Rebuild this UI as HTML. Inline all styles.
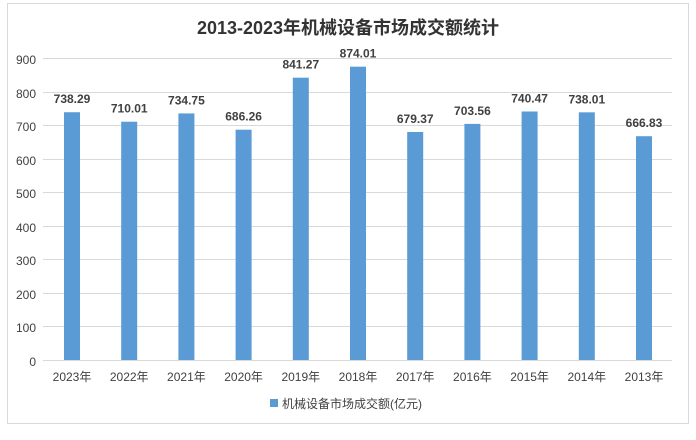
<!DOCTYPE html>
<html><head><meta charset="utf-8"><style>body{margin:0;background:#fff}</style></head><body>
<svg width="696" height="435" xmlns="http://www.w3.org/2000/svg" font-family="Liberation Sans, Noto Sans CJK SC, sans-serif">
<rect x="7.5" y="3.5" width="681" height="420" fill="#fff" stroke="#d9d9d9"/>
<text x="348" y="34" text-anchor="middle" font-size="18" font-weight="bold" fill="#333">2013-2023年机械设备市场成交额统计</text>
<g stroke="#d9d9d9" stroke-width="1">
<line x1="43" x2="672" y1="58.5" y2="58.5"/><line x1="43" x2="672" y1="92.5" y2="92.5"/><line x1="43" x2="672" y1="125.5" y2="125.5"/><line x1="43" x2="672" y1="159.5" y2="159.5"/><line x1="43" x2="672" y1="192.5" y2="192.5"/><line x1="43" x2="672" y1="226.5" y2="226.5"/><line x1="43" x2="672" y1="259.5" y2="259.5"/><line x1="43" x2="672" y1="293.5" y2="293.5"/><line x1="43" x2="672" y1="326.5" y2="326.5"/><line x1="43" x2="672" y1="360.5" y2="360.5"/>
</g>
<g font-size="12" fill="#404040" text-anchor="end">
<text x="36" y="64">900</text><text x="36" y="98">800</text><text x="36" y="131">700</text><text x="36" y="165">600</text><text x="36" y="198">500</text><text x="36" y="232">400</text><text x="36" y="265">300</text><text x="36" y="299">200</text><text x="36" y="332">100</text><text x="36" y="366">0</text>
</g>
<g fill="#5b9bd5" id="bars"></g>
<g id="labels" font-size="12" font-weight="bold" fill="#404040" text-anchor="middle"></g>
<g id="cats" font-size="12" fill="#404040" text-anchor="middle"></g>
<rect x="270" y="399" width="8" height="8" fill="#5b9bd5"/>
<text x="282" y="408" font-size="12" fill="#404040">机械设备市场成交额(亿元)</text>
<script>
var v=[738.29,710.01,734.75,686.26,841.27,874.01,679.37,703.56,740.47,738.01,666.83];
var c=["2023年","2022年","2021年","2020年","2019年","2018年","2017年","2016年","2015年","2014年","2013年"];
var ns="http://www.w3.org/2000/svg",b=document.getElementById("bars"),l=document.getElementById("labels"),k=document.getElementById("cats");
for(var i=0;i<11;i++){var cx=72+i*57.2,h=v[i]*0.3356,y=360-h;
var r=document.createElementNS(ns,"rect");r.setAttribute("x",cx-8);r.setAttribute("y",y);r.setAttribute("width",16);r.setAttribute("height",h);b.appendChild(r);
var t=document.createElementNS(ns,"text");t.setAttribute("x",cx);t.setAttribute("y",y-9);t.textContent=v[i].toFixed(2);l.appendChild(t);
var t2=document.createElementNS(ns,"text");t2.setAttribute("x",cx);t2.setAttribute("y",381);t2.textContent=c[i];k.appendChild(t2);}
</script>
</svg>
</body></html>
